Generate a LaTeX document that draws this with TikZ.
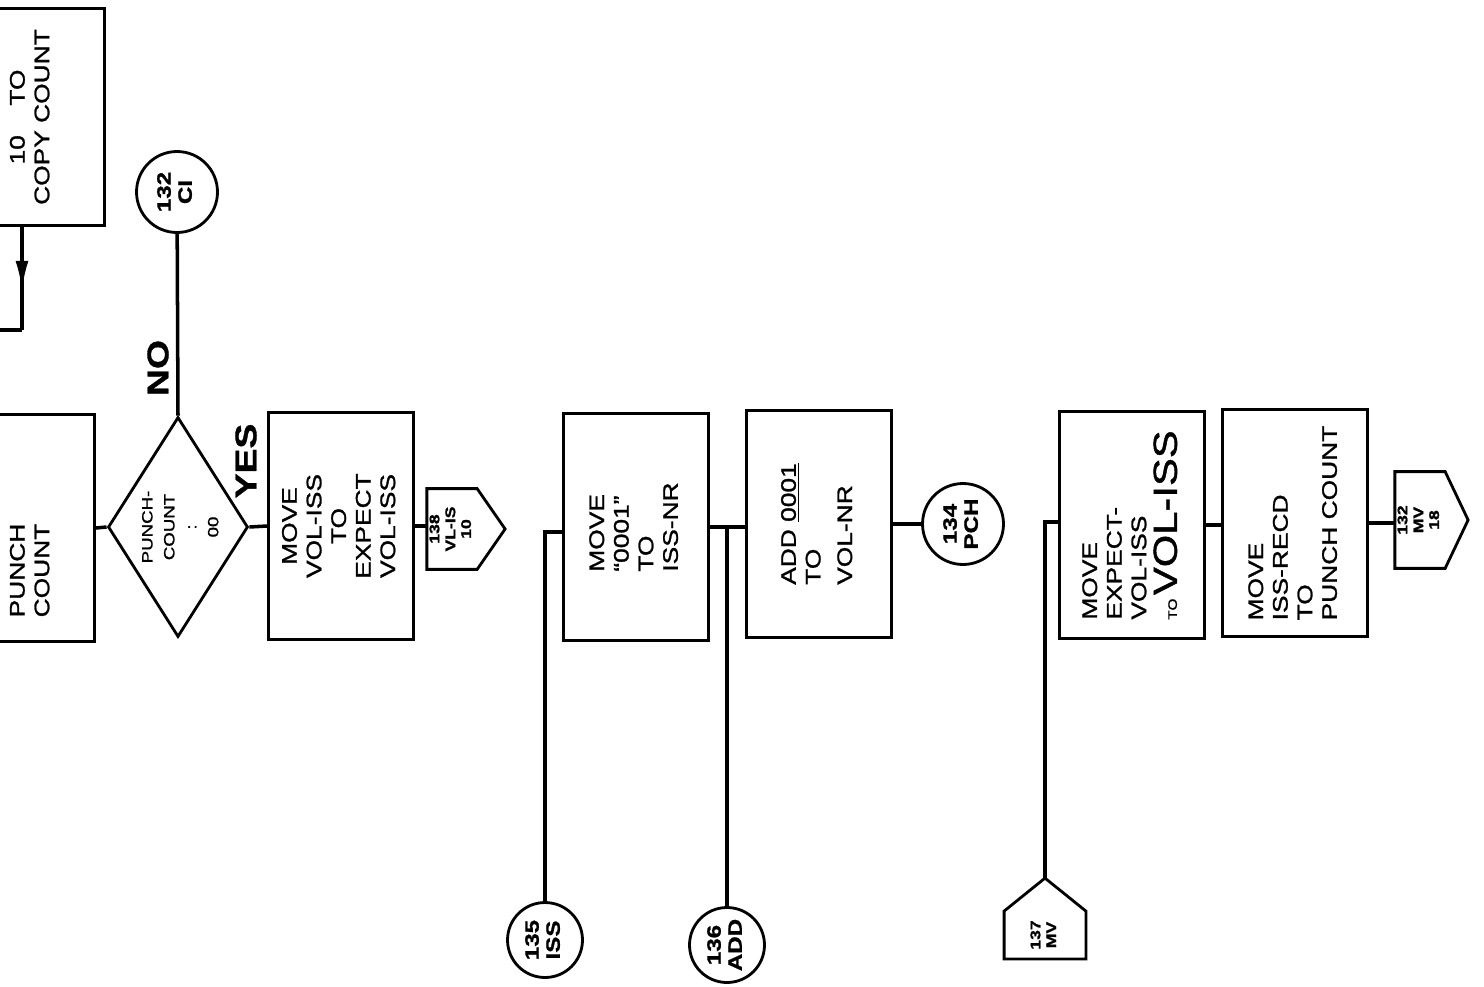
\documentclass[tikz,border=0pt]{standalone}
\usepackage{fontspec}
\setmainfont{Liberation Sans}[FakeStretch=1.25, FakeBold=1.2]
\usepackage{graphicx}
\usetikzlibrary{shapes.geometric,decorations.markings,arrows.meta}

\begin{document}
\begin{tikzpicture}[x=0.02cm, y=-0.02cm, line width=1.6pt,
	procbox/.style={draw, rectangle, minimum width=2.9cm, minimum height=4.55cm, inner sep=0pt, font=\fontsize{12}{14}\selectfont},
	decide/.style={draw, diamond, minimum width=2.8cm, minimum height=4.4cm, inner sep=0pt},
	conn/.style={draw, circle, minimum size=1.62cm, inner sep=0pt, font=\fontsize{11}{12}\selectfont\bfseries},
	pagetext/.style={inner sep=0pt, font=\fontsize{8}{9}\selectfont\bfseries},
	branch/.style={font=\fontsize{17}{17}\selectfont\bfseries},
	flow/.style={line width=2pt},
	midarrow/.style={postaction={decorate}, decoration={markings, mark=at position 0.62 with {\arrow{Latex[length=0.6cm,width=0.26cm]}}}}]
	\useasboundingbox (0,0) rectangle (1484,987);
	% top left box, cut off by the left border
	\node[procbox, minimum height=4.34cm] (copy) at (32,117) {\rotatebox{90}{\begin{tabular}{@{}c@{}}10\hspace{1.4em}TO\\COPY COUNT\end{tabular}}};
	\coordinate (aturn) at (22,330);
	\coordinate (aleft) at (-5,330);
	\draw[flow, midarrow] (copy.south -| aturn) -- (aturn);
	\draw[flow] (aturn) -- (aleft);
	% test on punch count
	\node[procbox, minimum width=2.5cm] (punch) at (32,528) {\rotatebox{90}{\begin{tabular}{@{}c@{\hspace{1.7cm}}}PUNCH\\COUNT\end{tabular}}};
	\node[decide] (dec) at (178,527) {};
	\node[font=\fontsize{8.5}{12.5}\selectfont] (dectext) at ([xshift=0.06cm]dec.center) {\rotatebox{90}{\begin{tabular}{@{}c@{}}PUNCH-\\COUNT\\:\\00\end{tabular}}};
	\node[conn] (c132) at (177,192) {\rotatebox{90}{\begin{tabular}{@{}c@{}}132\\CI\end{tabular}}};
	\draw[flow] (punch.east) -- (dec.west);
	\draw[flow] (c132) -- (dec.north);
	\node[branch] (no) at (158,368) {\rotatebox{90}{NO}};
	\node[branch] (yes) at (246,461) {\rotatebox{90}{YES}};
	% yes branch
	\node[procbox] (vol) at (341,526) {\rotatebox{90}{\begin{tabular}{@{}c@{}}MOVE\\VOL-ISS\\TO\\EXPECT\\VOL-ISS\end{tabular}}};
	\node[pagetext, minimum width=0.9cm, minimum height=1.56cm] (p138) at (452,529) {\rotatebox{90}{\begin{tabular}{@{}c@{}}138\\VL-IS\\10\end{tabular}}};
	\draw (p138.north west) -- (p138.north east) -- ([xshift=0.56cm]p138.east) -- (p138.south east) -- (p138.south west) -- cycle;
	\draw[flow] (dec.east) -- (vol.west);
	\draw[flow] (vol.east) -- (vol.east -| p138.west);
	% entry 135 and 136
	\node[procbox] (ones) at (636,527) {\rotatebox{90}{\begin{tabular}{@{}l@{}}MOVE\\``0001''\\TO\\ISS-NR\end{tabular}}};
	\node[procbox] (add) at (819,524) {\rotatebox{90}{\begin{tabular}{@{}l@{}}ADD \underline{0001}\\TO\\[4pt]VOL-NR\end{tabular}}};
	\node[conn, minimum size=1.5cm] (c135) at (545,940) {\rotatebox{90}{\begin{tabular}{@{}c@{}}135\\ISS\end{tabular}}};
	\node[conn, minimum size=1.5cm] (c136) at (727,945) {\rotatebox{90}{\begin{tabular}{@{}c@{}}136\\ADD\end{tabular}}};
	\node[conn] (c134) at (963,524) {\rotatebox{90}{\begin{tabular}{@{}c@{}}134\\PCH\end{tabular}}};
	\coordinate (j1) at (545,532);
	\coordinate (j2) at (727,527);
	\draw[flow] (c135) -- (j1) -- (j1 -| ones.west);
	\draw[flow] (ones.east) -- (j2) -- (j2 -| add.west);
	\draw[flow] (c136) -- (j2);
	\draw[flow] (add.east) -- (c134);
	% entry 137
	\node[procbox] (mvexp) at (1132,525) {\rotatebox{90}{\begin{tabular}{@{}l@{}}MOVE\\EXPECT-\\VOL-ISS\\{\fontsize{7}{7}\selectfont TO}\,{\fontsize{19}{21}\selectfont VOL-ISS}\end{tabular}}};
	\node[procbox] (mvrec) at (1295,523) {\rotatebox{90}{\begin{tabular}{@{}l@{}}MOVE\\ISS-RECD\\TO\\PUNCH COUNT\end{tabular}}};
	\node[pagetext, minimum width=1.58cm, minimum height=0.9cm] (p137) at (1045,935) {\rotatebox{90}{\begin{tabular}{@{}c@{}}137\\MV\end{tabular}}};
	\draw (p137.south west) -- (p137.west) -- (p137.north west) -- ([yshift=0.66cm]p137.north) -- (p137.north east) -- (p137.south east) -- cycle;
	\node[pagetext, minimum width=0.92cm, minimum height=1.88cm] (p132) at (1420,520) {\rotatebox{90}{\begin{tabular}{@{}c@{}}132\\MV\\18\end{tabular}}};
	\draw (p132.north west) -- (p132.north east) -- ([xshift=0.46cm]p132.east) -- (p132.south east) -- (p132.south west) -- cycle;
	\coordinate (j3) at (1045,522);
	\draw[flow] ([yshift=0.66cm]p137.north) -- (j3) -- (j3 -| mvexp.west);
	\draw[flow] (mvexp.east) -- (mvexp.east -| mvrec.west);
	\draw[flow] (mvrec.east) -- (mvrec.east -| p132.west);
\end{tikzpicture}
\end{document}
